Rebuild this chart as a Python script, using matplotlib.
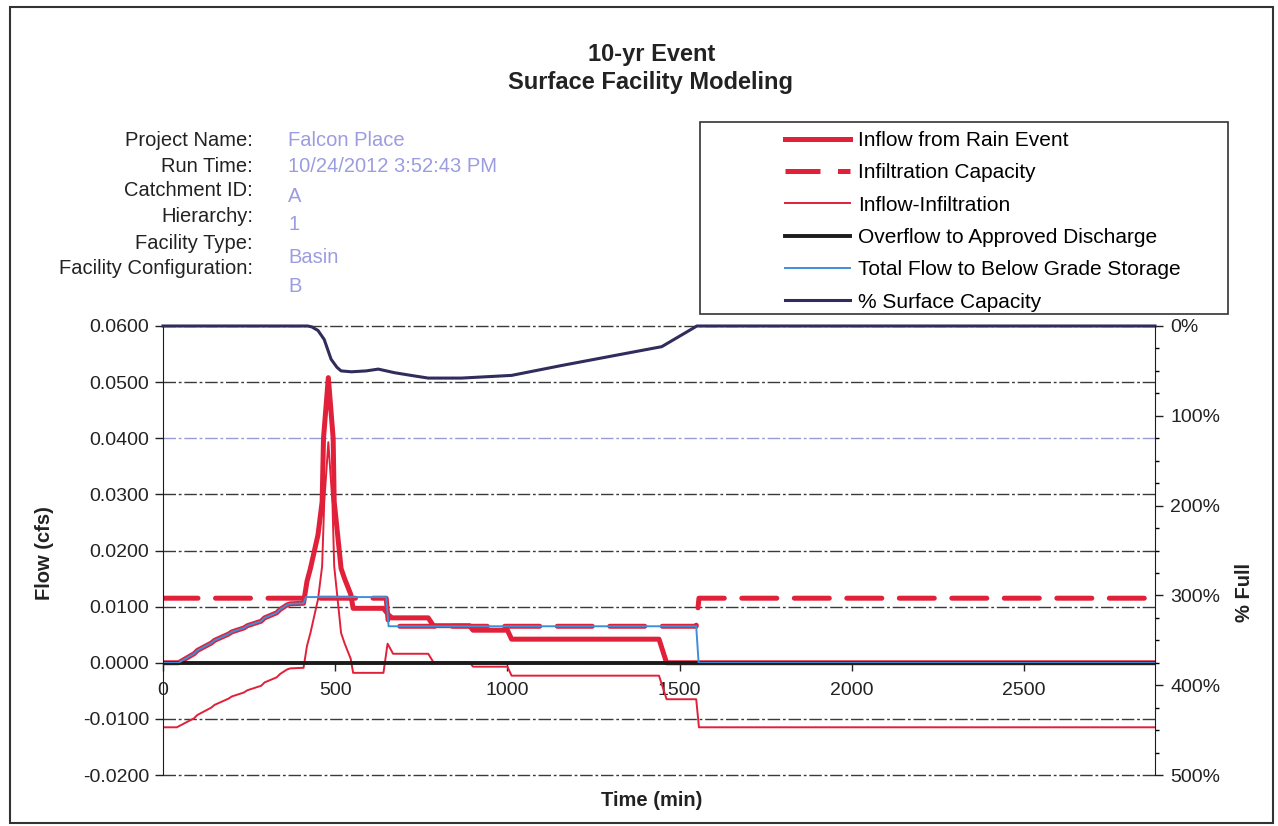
import matplotlib
matplotlib.use("Agg")
import matplotlib.pyplot as plt
from matplotlib.patches import Rectangle
from matplotlib.lines import Line2D
from matplotlib.ticker import MultipleLocator, FuncFormatter

plt.rcParams['font.family'] = ['Liberation Sans', 'DejaVu Sans']

# ---- data (time in min, flow in cfs) ----
time_inflow = [0, 45, 90, 100, 140, 150, 190, 200, 235, 245, 285, 295, 330, 340, 360, 370,
               408, 418, 428, 450, 462, 466, 480, 494, 497, 507, 517, 527, 545, 552,
               640, 655, 665, 770, 785, 890, 900, 1000, 1012, 1440, 1462, 2880]
inflow = [0, 0, 0.0016, 0.0022, 0.0035, 0.0040, 0.0051, 0.0055, 0.0062, 0.0066, 0.0074, 0.0080,
          0.0089, 0.0095, 0.0103, 0.0105, 0.0106, 0.0145, 0.0168, 0.0228, 0.0287, 0.0400,
          0.0508, 0.0400, 0.0287, 0.0228, 0.0168, 0.0150, 0.0122, 0.0097, 0.0097, 0.0085,
          0.0080, 0.0080, 0.0066, 0.0066, 0.0058, 0.0058, 0.0042, 0.0042, 0.0, 0.0]

time_cap = [0, 648, 655, 1548, 1556, 2880]
capacity = [0.0115, 0.0115, 0.0065, 0.0065, 0.0115, 0.0115]

time_net = [0, 40, 90, 100, 140, 150, 190, 200, 235, 245, 285, 295, 330, 340, 360, 370,
            408, 418, 428, 450, 462, 468, 480, 492, 497, 507, 517, 527, 545, 552,
            640, 652, 668, 770, 785, 890, 900, 1000, 1012, 1440, 1462, 1548, 1556, 2880]
net_flow = [-0.0115, -0.0115, -0.0099, -0.0093, -0.0080, -0.0075, -0.0064, -0.0060, -0.0053,
            -0.0049, -0.0041, -0.0035, -0.0026, -0.0020, -0.0012, -0.0010, -0.0009, 0.0030,
            0.0053, 0.0113, 0.0172, 0.0285, 0.0393, 0.0285, 0.0172, 0.0113, 0.0053, 0.0035,
            0.0007, -0.0018, -0.0018, 0.0034, 0.0016, 0.0016, 0.0001, 0.0001, -0.0007, -0.0007,
            -0.0023, -0.0023, -0.0065, -0.0065, -0.0115, -0.0115]

time_overflow = [0, 2880]
overflow = [0, 0]

time_storage = [0, 45, 90, 100, 140, 150, 190, 200, 235, 245, 285, 295, 330, 340, 360, 370,
                408, 415, 648, 655, 1548, 1555, 2880]
storage = [0, 0, 0.0016, 0.0022, 0.0035, 0.0040, 0.0051, 0.0055, 0.0062, 0.0066, 0.0074,
           0.0080, 0.0089, 0.0095, 0.0103, 0.0105, 0.0106, 0.0117, 0.0117, 0.0065, 0.0065, 0, 0]

time_pct = [0, 420, 432, 450, 468, 488, 505, 517, 547, 590, 625, 672, 720, 770, 866, 1012,
            1157, 1448, 1550, 2880]
pct_full = [0, 0, 1, 5, 15, 37, 46, 50, 51, 50, 48, 52, 55, 58, 58, 55, 44, 23, 0, 0]

info_labels = ["Project Name:", "Run Time:", "Catchment ID:", "Hierarchy:",
               "Facility Type:", "Facility Configuration:"]
info_values = ["Falcon Place", "10/24/2012 3:52:43 PM", "A", "1", "Basin", "B"]

series_names = ["Inflow from Rain Event", "Infiltration Capacity", "Inflow-Infiltration",
                "Overflow to Approved Discharge", "Total Flow to Below Grade Storage",
                "% Surface Capacity"]

RED = "#e1203a"
BLUE = "#3d8fd8"
DARK = "#1c1c1c"
PURPLE = "#302c5c"

W, H = 1278, 826
fig = plt.figure(figsize=(W / 100, H / 100), dpi=100)


def fx(px):
    return px / W


def fy(py):
    return 1 - py / H


ax = fig.add_axes([fx(163), fy(775), fx(1155) - fx(163), fy(326) - fy(775)])

ax.plot(time_inflow, inflow, color=RED, lw=3.6, solid_joinstyle="round")
ax.plot(time_cap, capacity, color=RED, lw=3.6, linestyle=(0, (7, 3.5)), dash_capstyle="round")
ax.plot(time_net, net_flow, color=RED, lw=1.4)
ax.plot(time_overflow, overflow, color=DARK, lw=2.8)
ax.plot(time_storage, storage, color=BLUE, lw=1.4)

ax.set_xlim(0, 2880)
ax.set_ylim(-0.02, 0.06)
ax.yaxis.set_major_locator(MultipleLocator(0.01))
ax.yaxis.set_major_formatter(FuncFormatter(lambda v, p: "{:.4f}".format(v)))
ax.xaxis.set_major_locator(MultipleLocator(500))
ax.yaxis.grid(True, color="#3a3a3a", lw=1.0, linestyle=(0, (9, 2, 2, 2)))
ax.set_axisbelow(True)
fig.canvas.draw()
for loc, gl in zip(ax.get_yticks(), ax.get_ygridlines()):
    gl.set_clip_on(False)
    if abs(loc - 0.04) < 1e-9:
        gl.set_color("#9a9ad8")

ax.spines["top"].set_visible(False)
ax.spines["right"].set_visible(False)
ax.spines["bottom"].set_position(("data", 0))
ax.spines["bottom"].set_color(DARK)
ax.spines["left"].set_color(DARK)
ax.tick_params(axis="y", direction="out", length=6, width=1, labelsize=14, pad=4, colors="#222")
ax.tick_params(axis="x", direction="out", length=6, width=1, labelsize=14, pad=8, colors="#222")

ax2 = ax.twinx()
ax2.plot(time_pct, pct_full, color=PURPLE, lw=2.2, clip_on=False)
ax2.set_ylim(500, 0)
ax2.yaxis.set_major_locator(MultipleLocator(100))
ax2.yaxis.set_minor_locator(MultipleLocator(25))
ax2.yaxis.set_major_formatter(FuncFormatter(lambda v, p: "{:d}%".format(int(round(v)))))
for s in ["top", "bottom", "left"]:
    ax2.spines[s].set_visible(False)
ax2.spines["right"].set_color(DARK)
ax2.tick_params(axis="y", which="major", direction="out", length=6, width=1, labelsize=14, pad=5, colors="#222")
ax2.tick_params(axis="y", which="minor", direction="out", length=3, width=1)

# titles and labels
fig.text(fx(652), fy(55), "10-yr Event", ha="center", va="center", fontsize=17, fontweight="bold", color="#222")
fig.text(fx(650), fy(82), "Surface Facility Modeling", ha="center", va="center", fontsize=17,
         fontweight="bold", color="#222")
fig.text(fx(45), fy(553), "Flow (cfs)", rotation=90, ha="center", va="center", fontsize=14.5,
         fontweight="bold", color="#222")
fig.text(fx(1245), fy(593), "% Full", rotation=90, ha="center", va="center", fontsize=14.5,
         fontweight="bold", color="#222")
fig.text(fx(652), fy(800), "Time (min)", ha="center", va="center", fontsize=14.5,
         fontweight="bold", color="#222")

label_y = [141, 166, 191, 217, 243, 269]
value_y = [141, 166, 197, 225, 258, 287]
for lab, val, ly, vy in zip(info_labels, info_values, label_y, value_y):
    fig.text(fx(253), fy(ly), lab, ha="right", va="center", fontsize=14.5, color="#222")
    fig.text(fx(288), fy(vy), val, ha="left", va="center", fontsize=14.5, color="#9c9ce0")

# legend box
fig.patches.append(Rectangle((fx(700), fy(314)), fx(1228) - fx(700), fy(122) - fy(314),
                             transform=fig.transFigure, fill=False, ec="#333", lw=1.2))
handles = [
    Line2D([], [], color=RED, lw=3.6),
    Line2D([], [], color=RED, lw=3.6, linestyle=(0, (7, 3.5))),
    Line2D([], [], color=RED, lw=1.4),
    Line2D([], [], color=DARK, lw=2.8),
    Line2D([], [], color=BLUE, lw=1.4),
    Line2D([], [], color=PURPLE, lw=2.2),
]
fig.legend(handles, series_names, loc="upper left", bbox_to_anchor=(fx(785), fy(131)),
           bbox_transform=fig.transFigure, frameon=False, fontsize=15, borderpad=0,
           handlelength=3.1, handletextpad=0.4, labelspacing=0.64, borderaxespad=0)

# outer chart border
fig.patches.append(Rectangle((fx(10), fy(823)), fx(1273) - fx(10), fy(7) - fy(823),
                             transform=fig.transFigure, fill=False, ec="#333", lw=1.5))

fig.savefig("out.png", dpi=100)
